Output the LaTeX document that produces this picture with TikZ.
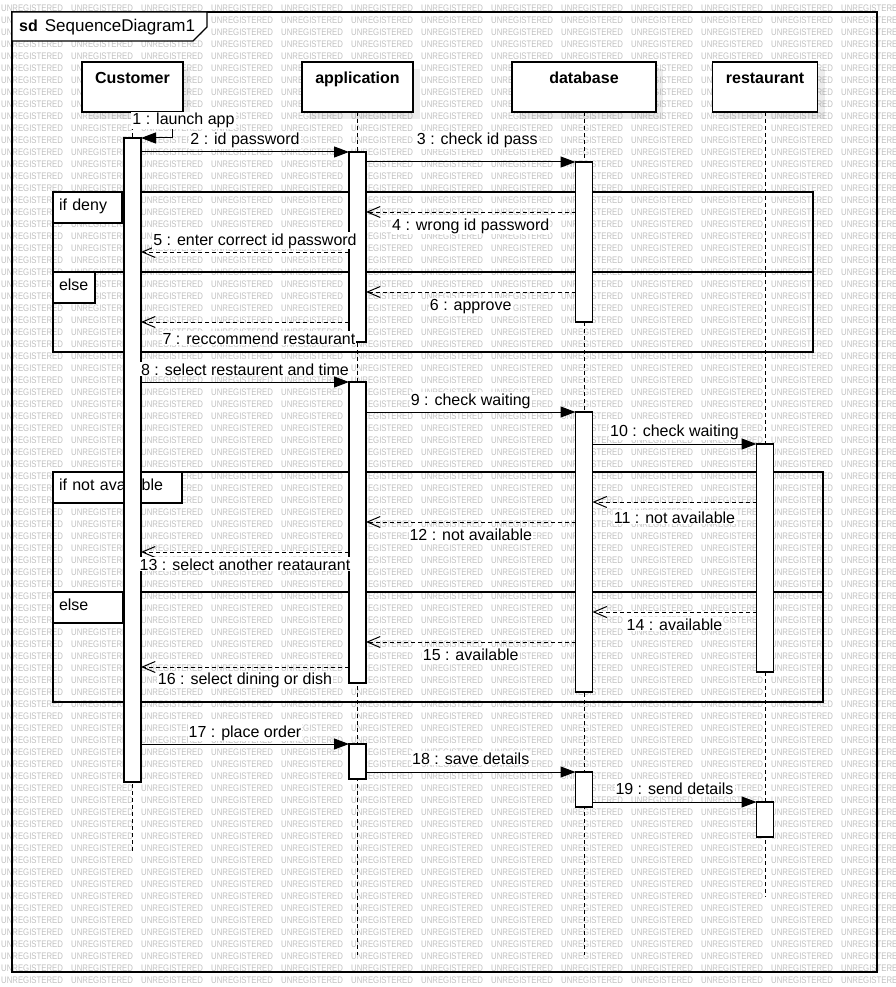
\documentclass[tikz,border=0pt]{standalone}
\usepackage{fontspec}
\setmainfont{Liberation Sans}
\usetikzlibrary{positioning, arrows.meta, shadows}
\definecolor{LineColor}{RGB}{0,0,0}
\definecolor{WatermarkColor}{RGB}{192,192,192}
\definecolor{BoxColor}{RGB}{255,255,255}
\tikzstyle{watermark} = [inner sep=0pt, anchor=west, xscale=0.82, text=WatermarkColor, font=\fontsize{9.5}{10}\selectfont]
\tikzstyle{frame} = [line width=1.2pt, LineColor]
\tikzstyle{head} = [draw=LineColor, line width=1.1pt, fill=BoxColor, inner sep=0pt, outer sep=0pt, minimum height=50pt, text height=12pt, text depth=18pt, font=\fontsize{16}{18}\selectfont\bfseries, drop shadow={shadow xshift=7pt, shadow yshift=-7pt, fill=black, opacity=0.07}]
\tikzstyle{lifeline} = [line width=1pt, LineColor, dash pattern=on 4pt off 3pt]
\tikzstyle{activation} = [draw=LineColor, line width=1.1pt, fill=BoxColor, inner sep=0pt, outer sep=0pt, minimum width=17pt]
\tikzstyle{fragment} = [draw=LineColor, line width=1.1pt, inner sep=0pt, outer sep=0pt]
\tikzstyle{fragtab} = [draw=LineColor, line width=1.1pt, fill=BoxColor, inner xsep=6pt, inner ysep=0pt, outer sep=0pt, minimum height=31pt, text height=12pt, text depth=5.6pt, align=left, font=\fontsize{16}{18}\selectfont]
\tikzstyle{msg} = [line width=1pt, LineColor, -{Triangle[length=15pt, width=11pt]}]
\tikzstyle{reply} = [line width=1pt, LineColor, dash pattern=on 4pt off 3pt, -{Straight Barb[length=13pt, width=11pt]}]
\tikzstyle{lbl} = [fill=BoxColor, inner sep=1pt, anchor=base, font=\fontsize{16}{18}\selectfont]
\tikzstyle{lblup} = [lbl, yshift=7pt]
\tikzstyle{lbldown} = [lbl, yshift=-18pt]

\begin{document}
\begin{tikzpicture}[x=1pt, y=-1pt]
    \useasboundingbox (0,0) rectangle (896,987);

    % Watermark background
    \foreach \row in {0,...,81}{
        \foreach \col in {0,...,12}{
            \node[watermark] (wm-\row-\col) at (1+70*\col, 8+12*\row) {UNREGISTERED};
        }
    }

    % Diagram frame
    \draw[frame] (12,12) rectangle (877,972);
    \draw[frame, fill=BoxColor] (12,12) -- (207,12) -- (207,27) -- (193,41) -- (12,41) -- cycle;
    \node[anchor=base west, inner sep=0pt] (title) at (19,31.5) {\fontsize{16}{18}\selectfont\textbf{sd}\hspace{7pt}\fontsize{17}{19}\selectfont SequenceDiagram1};

    % Combined fragment: if deny / else
    \node[fragment, anchor=north west, minimum width=760pt, minimum height=160pt] (altLogin) at (53,192) {};
    \draw[fragment] (altLogin.west |- 0,272) -- (altLogin.east |- 0,272);
    \node[fragtab, anchor=north west, text width=57pt] (altLoginIf) at (altLogin.north west) {if deny};
    \node[fragtab, anchor=north west, text width=30pt] (altLoginElse) at (altLogin.west |- 0,272) {else};

    % Combined fragment: if not available / else
    \node[fragment, anchor=north west, minimum width=770pt, minimum height=230pt] (altWait) at (53,472) {};
    \draw[fragment] (altWait.west |- 0,592) -- (altWait.east |- 0,592);
    \node[fragtab, anchor=north west, text width=117pt] (altWaitIf) at (altWait.north west) {if not available};
    \node[fragtab, anchor=north west, text width=58pt] (altWaitElse) at (altWait.west |- 0,592) {else};

    % Lifelines
    \node[head, minimum width=101pt] (cust) at (132.5,87) {Customer};
    \node[head, minimum width=111pt] (app) at (357.5,87) {application};
    \node[head, minimum width=144pt] (db) at (584,87) {database};
    \node[head, minimum width=105pt] (rest) at (765,87) {restaurant};
    \coordinate (custEnd) at (132.5,852);
    \coordinate (appEnd) at (357.5,955);
    \coordinate (dbEnd) at (584,955);
    \coordinate (restEnd) at (765,897);
    \draw[lifeline] (cust.south) -- (custEnd);
    \draw[lifeline] (app.south) -- (appEnd);
    \draw[lifeline] (db.south) -- (dbEnd);
    \draw[lifeline] (rest.south) -- (restEnd);

    % Activations
    \node[activation, minimum height=644pt] (custAct) at (132.5,460) {};
    \node[activation, minimum height=190pt] (appAct1) at (357.5,247) {};
    \node[activation, minimum height=301pt] (appAct2) at (357.5,532.5) {};
    \node[activation, minimum height=35pt] (appAct3) at (357.5,761.5) {};
    \node[activation, minimum height=160pt] (dbAct1) at (584,242) {};
    \node[activation, minimum height=280pt] (dbAct2) at (584,552) {};
    \node[activation, minimum height=35pt] (dbAct3) at (584,789.5) {};
    \node[activation, minimum height=228pt] (restAct1) at (765,558) {};
    \node[activation, minimum height=35pt] (restAct2) at (765,819.5) {};

    % Login
    \coordinate (loop1) at (172,127);
    \draw[msg] (cust.south |- loop1) -- (loop1) |- (custAct.north east);
    \node[lbl] (launch) at (183.5,125) {1 : launch app};
    \draw[msg] (custAct.east |- 0,152) -- (appAct1.north west) node[midway, lblup] {2 : id password};
    \draw[msg] (appAct1.east |- 0,162) -- (dbAct1.north west) node[midway, lbl, yshift=17pt, xshift=6.5pt] {3 : check id pass};
    \draw[reply] (dbAct1.west |- 0,212) -- (appAct1.east |- 0,212) node[midway, lbldown] {4 : wrong id password};
    \draw[reply] (appAct1.west |- 0,252) -- (custAct.east |- 0,252) node[midway, lblup, xshift=10pt] {5 : enter correct id password};
    \draw[reply] (dbAct1.west |- 0,292) -- (appAct1.east |- 0,292) node[midway, lbldown] {6 : approve};
    \draw[reply] (appAct1.west |- 0,322) -- (custAct.east |- 0,322) node[midway, lbl, yshift=-22pt, xshift=14pt] {7 : reccommend restaurant};

    % Booking
    \draw[msg] (custAct.east |- 0,382) -- (appAct2.north west) node[midway, lblup] {8 : select restaurent and time};
    \draw[msg] (appAct2.east |- 0,412) -- (dbAct2.north west) node[midway, lblup] {9 : check waiting};
    \draw[msg] (dbAct2.east |- 0,444) -- (restAct1.north west) node[midway, lbl, yshift=8pt] {10 : check waiting};
    \draw[reply] (restAct1.west |- 0,502) -- (dbAct2.east |- 0,502) node[midway, lbl, yshift=-21pt] {11 : not available};
    \draw[reply] (dbAct2.west |- 0,522) -- (appAct2.east |- 0,522) node[midway, lbldown] {12 : not available};
    \draw[reply] (appAct2.west |- 0,552) -- (custAct.east |- 0,552) node[midway, lbldown] {13 : select another reataurant};
    \draw[reply] (restAct1.west |- 0,612) -- (dbAct2.east |- 0,612) node[midway, lbldown] {14 : available};
    \draw[reply] (dbAct2.west |- 0,642) -- (appAct2.east |- 0,642) node[midway, lbldown] {15 : available};
    \draw[reply] (appAct2.west |- 0,667) -- (custAct.east |- 0,667) node[midway, lbl, yshift=-17pt] {16 : select dining or dish};

    % Order
    \draw[msg] (custAct.east |- 0,744) -- (appAct3.north west) node[midway, lblup] {17 : place order};
    \draw[msg] (appAct3.east |- 0,772) -- (dbAct3.north west) node[midway, lbl, yshift=8pt] {18 : save details};
    \draw[msg] (dbAct3.east |- 0,802) -- (restAct2.north west) node[midway, lbl, yshift=8pt] {19 : send details};
\end{tikzpicture}
\end{document}
